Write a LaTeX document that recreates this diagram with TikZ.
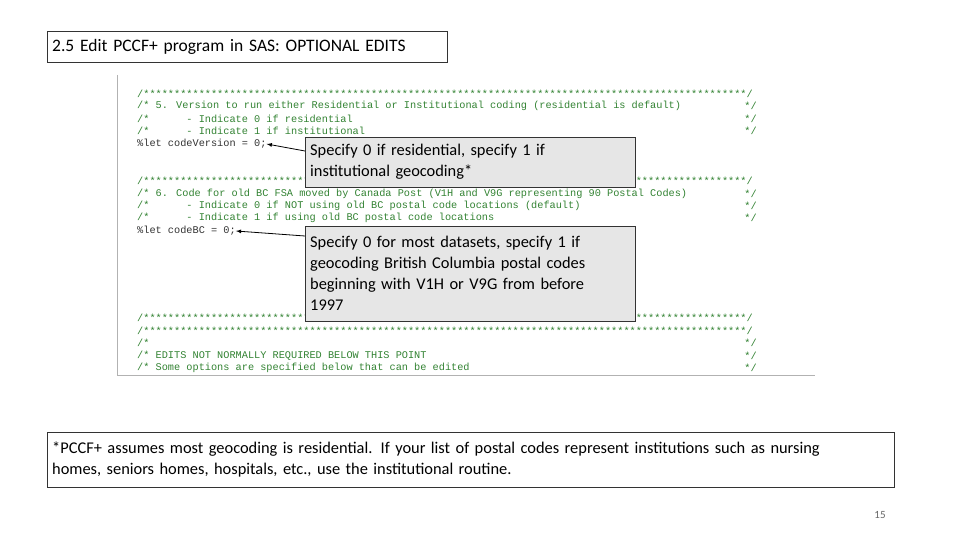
\documentclass[tikz,border=0pt]{standalone}
\usepackage{fontspec}
\setmainfont{Carlito}
\newfontfamily\codefont{Liberation Mono}
\definecolor{codegreen}{RGB}{50,130,50}
\definecolor{boxfill}{RGB}{230,230,230}
\def\tst{**********}
\def\stars{/\tst\tst\tst\tst\tst\tst\tst\tst\tst********/}
\begin{document}
\begin{tikzpicture}[x=1pt,y=-1pt,
  code/.style={anchor=west,inner sep=0pt,font=\codefont\fontsize{10.26}{10}\selectfont,text=codegreen},
  codeend/.style={anchor=east,inner sep=0pt,font=\codefont\fontsize{10.26}{10}\selectfont,text=codegreen},
  codeblk/.style={code,text=black!80},
  callout/.style={draw=black!80,fill=boxfill,anchor=north west,inner sep=5pt,align=left,font=\fontsize{16.4}{21}\selectfont,text width=320pt},
  plainbox/.style={draw=black!80,anchor=north west,inner sep=5pt,align=left,font=\fontsize{16.4}{21}\selectfont},
  arr/.style={-latex,thick,black}]
\useasboundingbox (0,0) rectangle (960,540);
\draw[black!30] (117,75) -- (117,375) -- (815,375);
\node[plainbox,minimum width=400pt,minimum height=31pt,text width=390pt,font=\fontsize{17.5}{21}\selectfont] (title) at (47,31) {2.5 Edit PCCF+ program in SAS: OPTIONAL EDITS};
\node[code] (c1) at (137,94) {\stars};
\node[code] (c2) at (137,106) {/* 5. Version to run either Residential or Institutional coding (residential is default)};
\node[codeend] (e2) at (757,106) {*/};
\node[code] (c3) at (137,119) {/*\ \ \ \ \ \ - Indicate 0 if residential};
\node[codeend] (e3) at (757,119) {*/};
\node[code] (c4) at (137,131) {/*\ \ \ \ \ \ - Indicate 1 if institutional};
\node[codeend] (e4) at (757,131) {*/};
\node[codeblk] (c5) at (137,144) {\%let codeVersion = 0;};
\node[code] (c6) at (137,181) {\stars};
\node[code] (c7) at (137,194) {/* 6. Code for old BC FSA moved by Canada Post (V1H and V9G representing 90 Postal Codes)};
\node[codeend] (e7) at (757,194) {*/};
\node[code] (c8) at (137,206) {/*\ \ \ \ \ \ - Indicate 0 if NOT using old BC postal code locations (default)};
\node[codeend] (e8) at (757,206) {*/};
\node[code] (c9) at (137,218) {/*\ \ \ \ \ \ - Indicate 1 if using old BC postal code locations};
\node[codeend] (e9) at (757,218) {*/};
\node[codeblk] (c10) at (137,231) {\%let codeBC = 0;};
\node[code] (c11) at (137,318) {\stars};
\node[code] (c12) at (137,331) {\stars};
\node[code] (c13) at (137,343) {/*};
\node[codeend] (e13) at (757,343) {*/};
\node[code] (c14) at (137,356) {/* EDITS NOT NORMALLY REQUIRED BELOW THIS POINT};
\node[codeend] (e14) at (757,356) {*/};
\node[code] (c15) at (137,368) {/* Some options are specified below that can be edited};
\node[codeend] (e15) at (757,368) {*/};
\node[callout,minimum height=50pt] (b1) at (305,137) {Specify 0 if residential, specify 1 if\\ institutional geocoding*};
\node[callout,minimum height=95pt] (b2) at (305,226) {Specify 0 for most datasets, specify 1 if\\ geocoding British Columbia postal codes\\ beginning with V1H or V9G from before\\ 1997};
\draw[arr] (b1.west |- 0,151) -- (c5.east);
\draw[arr] ([yshift=-10pt]b2.north west) -- (c10.east);
\node[plainbox,text width=837pt,minimum height=55pt] (foot) at (47,432) {*PCCF+ assumes most geocoding is residential. If your list of postal codes represent institutions such as nursing\\ homes, seniors homes, hospitals, etc., use the institutional routine.};
\node[font=\fontsize{11}{12}\selectfont,text=black!60] (pg) at (880,515) {15};
\end{tikzpicture}
\end{document}
